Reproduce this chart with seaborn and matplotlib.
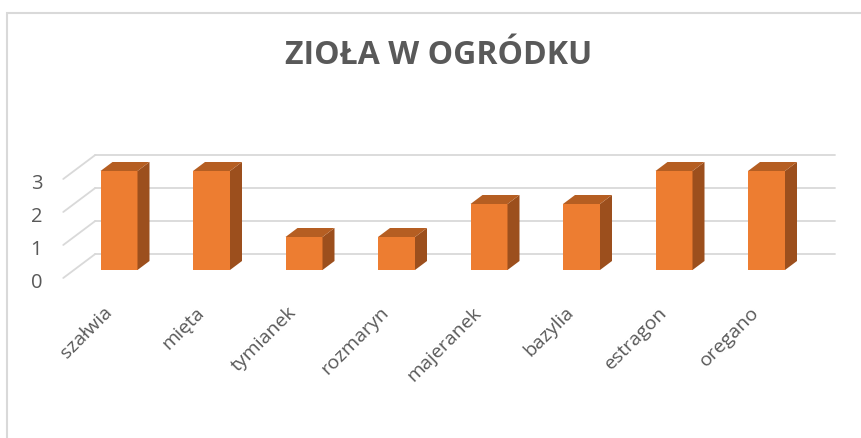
import matplotlib
matplotlib.use("Agg")
import matplotlib.pyplot as plt
import seaborn as sns
import pandas as pd
from matplotlib.patches import Polygon, Rectangle
from matplotlib.lines import Line2D

# Herbs grown in the garden and how many of each
herbs = ["szałwia", "mięta", "tymianek", "rozmaryn", "majeranek", "bazylia", "estragon", "oregano"]
counts = [3, 3, 1, 1, 2, 2, 3, 3]
y_ticks = [0, 1, 2, 3]
title = "ZIOŁA W OGRÓDKU"

df = pd.DataFrame({"ziolo": herbs, "liczba": counts})

sns.set_theme(style="white")
plt.rcParams["font.family"] = ["Open Sans", "DejaVu Sans"]

W, H = 861, 439
fig = plt.figure(figsize=(W / 100, H / 100), dpi=100)
fig.patch.set_facecolor("white")

# chart-area frame (light grey)
fig.add_artist(Rectangle((6.5 / W, -0.1), 1.2, (H - 13.5) / H + 0.1, transform=fig.transFigure,
                         fill=False, edgecolor="#D9D9D9", linewidth=1.5))

left_px, right_px = 72.75, 812.75
zero_px_from_top = 271
unit_px = 33
ymax = 3.6
ax = fig.add_axes([left_px / W, (H - zero_px_from_top) / H,
                   (right_px - left_px) / W, ymax * unit_px / H])

front = "#ED7D31"
side = "#9C4F1D"
top = "#B55E22"
grid = "#D9D9D9"
text_col = "#595959"

sns.barplot(data=df, x="ziolo", y="liczba", color=front, width=0.4, saturation=1,
            ax=ax, zorder=3, linewidth=0)
ax.set_xlim(-0.5, len(herbs) - 0.5)
ax.set_ylim(0, ymax)
ax.axis("off")

# pixel -> data conversion
p0 = ax.transData.transform((0, 0))
p1 = ax.transData.transform((1, 1))
px_x = 1.0 / (p1[0] - p0[0])
px_y = 1.0 / (p1[1] - p0[1])

# back wall and side wall gridlines
bdx, bdy = 22.5 * px_x, 16 * px_y
sdx, sdy = -32 * px_x, -24 * px_y
x_lo, x_hi = ax.get_xlim()
for v in y_ticks:
    ax.add_line(Line2D([x_lo + bdx, x_hi + bdx], [v + bdy, v + bdy], color=grid,
                       linewidth=1.3, zorder=1, clip_on=False))
    ax.add_line(Line2D([x_lo + bdx, x_lo + bdx + sdx], [v + bdy, v + bdy + sdy], color=grid,
                       linewidth=1.3, zorder=1, clip_on=False))
    ax.text(x_lo + bdx + sdx - 21 * px_x, v + bdy + sdy - 4 * px_y, str(v),
            ha="right", va="center", fontsize=14.5, color=text_col, clip_on=False)

# 3D depth: side and top faces of every bar
ddx, ddy = 12 * px_x, 9 * px_y
for patch in ax.patches:
    x0 = patch.get_x()
    x1 = x0 + patch.get_width()
    h = patch.get_height()
    ax.add_patch(Polygon([(x1, 0), (x1 + ddx, ddy), (x1 + ddx, h + ddy), (x1, h)],
                         closed=True, facecolor=side, edgecolor="none", zorder=3))
    ax.add_patch(Polygon([(x0, h), (x1, h), (x1 + ddx, h + ddy), (x0 + ddx, h + ddy)],
                         closed=True, facecolor=top, edgecolor="none", zorder=3))

# rotated category labels
for i, name in enumerate(herbs):
    ax.text(i - 10 * px_x, -39 * px_y, name, rotation=45, rotation_mode="anchor",
            ha="right", va="center", fontsize=14, color=text_col, clip_on=False)

fig.text(438.5 / W, 1 - 56 / H, title, ha="center", va="center",
         fontsize=23, fontweight="bold", color=text_col)

fig.savefig("out.png", dpi=100, facecolor="white")
